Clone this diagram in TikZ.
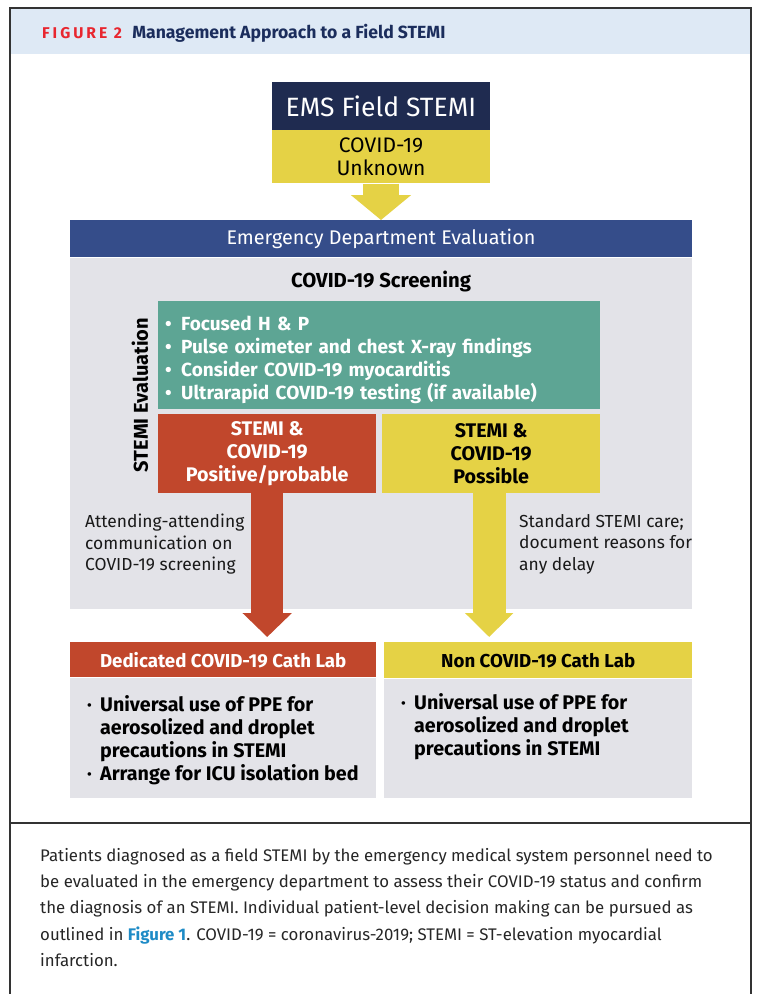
\documentclass[tikz,border=0pt]{standalone}
\usepackage{fontspec}
\setmainfont{Fira Sans}
\usetikzlibrary{positioning,arrows.meta,calc}
\definecolor{navy}{HTML}{1F2B50}
\definecolor{edblue}{HTML}{354D8A}
\definecolor{ylw}{HTML}{E5D245}
\definecolor{tealc}{HTML}{5DA594}
\definecolor{redc}{HTML}{C1472C}
\definecolor{grayc}{HTML}{E3E3E8}
\definecolor{headbg}{HTML}{DEE9F5}
\definecolor{figred}{HTML}{E8262F}
\definecolor{titlenavy}{HTML}{1B2D5C}
\definecolor{linkblue}{HTML}{1E8BC6}
\newcommand{\bigfont}{\fontsize{19.7}{23}\selectfont}
\newcommand{\dotb}{\makebox[13pt][l]{\textperiodcentered}}
\tikzstyle{box} = [inner sep=0pt, align=center, font=\bigfont\bfseries]
\tikzstyle{note} = [inner sep=0pt, align=left, anchor=north west, text=black!90, font=\fontsize{17.4}{21.5}\selectfont]
\tikzstyle{frame} = [line width=1.3pt, black!80]

\begin{document}
\begin{tikzpicture}[x=1pt,y=-1pt]
\useasboundingbox (0,0) rectangle (756,994);
\coordinate (EMS)  at (381,106);
\coordinate (ED)   at (381,220);
\coordinate (TEAL) at (158,301);
\coordinate (POS)  at (158,414);
\coordinate (POSS) at (382,414);
\coordinate (DED)  at (70,642);
\coordinate (NON)  at (384,642);

% frame and heading
\fill [headbg] (10,8) rectangle (751,54);
\draw [frame] (10,994) -- (10,8) -- (751,8) -- (751,994);
\draw [frame] (10,823) -- (751,823);
\node [anchor=west, inner sep=0pt, text=figred, font=\fontsize{15.6}{15}\selectfont\bfseries\addfontfeature{LetterSpace=19}] (fig) at (42,33) {FIGURE 2};
\node [right=10pt of fig, inner sep=0pt, text=titlenavy, font=\fontsize{17.6}{17}\selectfont\bfseries] (title) {Management Approach to a Field STEMI};

% field STEMI
\node [box, fill=navy, text=white, minimum width=218pt, minimum height=48pt, font=\fontsize{26.5}{26}\selectfont] (ems) at (EMS) {EMS Field STEMI};
\node [box, fill=ylw, minimum width=218pt, minimum height=53pt, below=0pt of ems, font=\fontsize{21}{23}\selectfont] (unk) {COVID-19\\Unknown};

% emergency department
\node [box, fill=edblue, text=white, minimum width=622pt, minimum height=37pt, anchor=north, font=\fontsize{19.8}{20}\selectfont] (ed) at (ED) {Emergency Department Evaluation};
\node [fill=grayc, minimum width=622pt, minimum height=351pt, inner sep=0pt, below=0pt of ed] (panel) {};
\draw [ylw, line width=36pt, -{Triangle[width=59pt,length=25pt]}] (unk.south) -- (ed.north);

\node [box, font=\fontsize{20.3}{20}\selectfont\bfseries] (scr) at (381,282) {COVID-19 Screening};
\node [fill=tealc, text=white, anchor=north west, text width=428pt, minimum height=108pt, inner xsep=7pt, inner ysep=0pt, align=left, font=\fontsize{19}{23}\selectfont\bfseries] (teal) at (TEAL)
  {\rule{0pt}{23pt}\makebox[16pt][l]{\textbullet}Focused H \& P\\
   \makebox[16pt][l]{\textbullet}Pulse oximeter and chest X-ray findings\\
   \makebox[16pt][l]{\textbullet}Consider COVID-19 myocarditis\\
   \makebox[16pt][l]{\textbullet}Ultrarapid COVID-19 testing (if available)};
\node [box, rotate=90, font=\fontsize{20}{20}\selectfont\bfseries] (eval) at (140,395) {STEMI Evaluation};

\node [box, fill=redc, text=white, anchor=north west, minimum width=218pt, minimum height=79pt] (pos) at (POS) {STEMI \&\\COVID-19\\Positive/probable};
\node [box, fill=ylw, anchor=north west, minimum width=218pt, minimum height=79pt] (possible) at (POSS) {STEMI \&\\COVID-19\\Possible};

\node [note] (comm) at (85,514) {Attending-attending\\communication on\\COVID-19 screening};
\node [note] (std) at (519,514) {Standard STEMI care;\\document reasons for\\any delay};

% cath labs
\node [box, fill=redc, text=white, anchor=north west, minimum width=306pt, minimum height=35pt, font=\fontsize{18.7}{18}\selectfont\bfseries] (dedlab) at (DED) {Dedicated COVID-19 Cath Lab};
\node [fill=grayc, minimum width=306pt, minimum height=120pt, inner sep=0pt, below=0pt of dedlab] (dedbody) {};
\node [box, fill=ylw, anchor=north west, minimum width=308pt, minimum height=36pt, font=\fontsize{18.7}{18}\selectfont\bfseries] (nonlab) at (NON) {Non COVID-19 Cath Lab};
\node [fill=grayc, minimum width=308pt, minimum height=119pt, inner sep=0pt, below=0pt of nonlab] (nonbody) {};

\node [note, font=\bigfont\bfseries, text=black] (dedtxt) at (87,695) {\dotb Universal use of PPE for\\\hspace*{13pt}aerosolized and droplet\\\hspace*{13pt}precautions in STEMI\\\dotb Arrange for ICU isolation bed};
\node [note, font=\bigfont\bfseries, text=black] (nontxt) at (401,693) {\dotb Universal use of PPE for\\\hspace*{13pt}aerosolized and droplet\\\hspace*{13pt}precautions in STEMI};

\coordinate (redtip) at ($(pos.south |- dedlab.north)+(0,-5)$);
\coordinate (ylwtip) at ($(possible.south |- nonlab.north)+(-2,-5)$);
\draw [redc, line width=32pt, -{Triangle[width=48pt,length=24pt]}] (pos.south) -- (redtip);
\draw [ylw, line width=33pt, -{Triangle[width=47pt,length=24pt]}] ($(possible.south)+(-2,0)$) -- (ylwtip);

% caption
\node [note, text=black!85, font=\fontsize{16.8}{26.3}\selectfont] (caption) at (40,848)
  {Patients diagnosed as a field STEMI by the emergency medical system personnel need to\\
   be evaluated in the emergency department to assess their COVID-19 status and confirm\\
   the diagnosis of an STEMI. Individual patient-level decision making can be pursued as\\
   outlined in \textcolor{linkblue}{\textbf{Figure 1}}. COVID-19 = coronavirus-2019; STEMI = ST-elevation myocardial\\
   infarction.};
\end{tikzpicture}
\end{document}
